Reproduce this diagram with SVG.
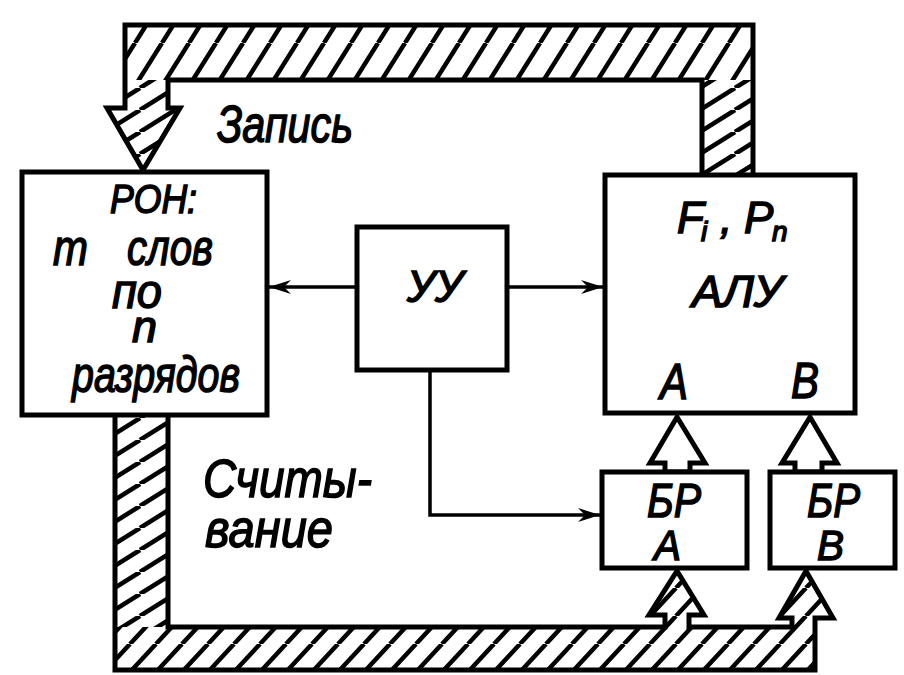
<svg xmlns="http://www.w3.org/2000/svg" width="904" height="675" viewBox="0 0 904 675">
<defs>
<style>
.box{fill:#fff;stroke:#000;stroke-width:5}
.bus{fill:none;stroke:#000;stroke-width:5;stroke-linejoin:miter}
.ln{fill:none;stroke:#000;stroke-width:3.5}
.t{font-family:"Liberation Sans","DejaVu Sans",sans-serif;font-style:italic;fill:#000;stroke:#000;stroke-width:1.5}
.h{stroke:#000;stroke-width:4.5;fill:none}
</style>
<pattern id="hH" patternUnits="userSpaceOnUse" width="27" height="43"><path class="h" d="M0,43 L27,0 M-27,43 L0,0 M27,43 L54,0"/></pattern>
<pattern id="hB" patternUnits="userSpaceOnUse" width="26" height="28"><path class="h" d="M0,28 L26,0 M-26,28 L0,0 M26,28 L52,0"/></pattern>
<pattern id="hV" patternUnits="userSpaceOnUse" width="35" height="22"><path class="h" d="M0,22 L35,0 M-35,22 L0,0 M35,22 L70,0"/></pattern>
<marker id="arr" markerUnits="userSpaceOnUse" markerWidth="24" markerHeight="14" refX="22" refY="7" orient="auto"><path d="M0,0 L22,7 L0,14 L7,7 Z" fill="#000"/></marker>
</defs>
<rect width="904" height="675" fill="#fff"/>

<g id="connectors">
  <!-- top bus (Запись) -->
  <rect x="125" y="25" width="628" height="55" fill="url(#hH)"/>
  <rect x="702" y="80" width="51" height="94" fill="url(#hV)"/>
  <polygon points="125,80 168,80 168,108 180,108 143,170 107,108 125,108" fill="url(#hV)"/>
  <path class="bus" d="M702,174 L702,80 L168,80 L168,108 L180,108 L143,170 L107,108 L125,108 L125,25 L753,25 L753,174"/>
  <!-- bottom bus (Считывание) -->
  <rect x="115" y="415" width="53" height="212" fill="url(#hV)"/>
  <rect x="115" y="627" width="700" height="43" fill="url(#hB)"/>
  <polygon points="665,627 665,615 649,615 677,571 704,615 689,615 689,627" fill="url(#hB)"/>
  <polygon points="792,627 792,618 779,618 806,571 833,618 815,618 815,627" fill="url(#hB)"/>
  <path class="bus" d="M168,415 L168,627 L665,627 L665,615 L649,615 L677,571 L704,615 L689,615 L689,627 L792,627 L792,618 L779,618 L806,571 L833,618 L815,618 L815,670 L115,670 L115,415"/>
  <!-- БР -> АЛУ -->
  <polygon class="bus" points="665,472 665,463 650,463 677,417 705,463 690,463 690,472" fill="url(#hB)"/>
  <polygon class="bus" points="795,472 795,463 782,463 810,417 837,463 822,463 822,472" fill="url(#hB)"/>
  <!-- control lines -->
  <line class="ln" x1="357" y1="287" x2="269" y2="287" marker-end="url(#arr)"/>
  <line class="ln" x1="507" y1="287" x2="603" y2="287" marker-end="url(#arr)"/>
  <polyline class="ln" points="430,370 430,515 600,515" marker-end="url(#arr)"/>
  <!-- labels -->
  <text class="t" x="217" y="142" font-size="52" textLength="136" lengthAdjust="spacingAndGlyphs">Запись</text>
  <text class="t" x="203" y="497" font-size="54" textLength="169" lengthAdjust="spacingAndGlyphs">Считы-</text>
  <text class="t" x="205" y="547" font-size="54" textLength="128" lengthAdjust="spacingAndGlyphs">вание</text>
</g>

<g id="ron">
  <rect class="box" x="22" y="172" width="245" height="243"/>
  <text class="t" x="110" y="213" font-size="40" textLength="87" lengthAdjust="spacingAndGlyphs">РОН:</text>
  <text class="t" font-size="50"><tspan x="53" y="265" textLength="35" lengthAdjust="spacingAndGlyphs">m</tspan> <tspan x="127" y="265" textLength="86" lengthAdjust="spacingAndGlyphs">слов</tspan></text>
  <text class="t" x="112" y="308" font-size="48" textLength="50" lengthAdjust="spacingAndGlyphs">по</text>
  <text class="t" x="132" y="342" font-size="44" textLength="25" lengthAdjust="spacingAndGlyphs">n</text>
  <text class="t" x="72" y="392" font-size="50" textLength="168" lengthAdjust="spacingAndGlyphs">разрядов</text>
</g>

<g id="uu">
  <rect class="box" x="357" y="227" width="150" height="143"/>
  <text class="t" x="407" y="302" font-size="44" textLength="56" lengthAdjust="spacingAndGlyphs">УУ</text>
</g>

<g id="alu">
  <rect class="box" x="605" y="175" width="250" height="238"/>
  <text class="t" font-size="44"><tspan x="677" y="233">F</tspan><tspan x="701" y="241" font-size="28">i</tspan><tspan x="720" y="233">,</tspan><tspan x="744" y="233">P</tspan><tspan x="772" y="241" font-size="28">n</tspan></text>
  <text class="t" x="692" y="307" font-size="44" textLength="91" lengthAdjust="spacingAndGlyphs">АЛУ</text>
  <text class="t" x="660" y="399" font-size="50" textLength="28" lengthAdjust="spacingAndGlyphs">A</text>
  <text class="t" x="791" y="398" font-size="50" textLength="28" lengthAdjust="spacingAndGlyphs">B</text>
</g>

<g id="bra">
  <rect class="box" x="602" y="472" width="145" height="96"/>
  <text class="t" x="647" y="517" font-size="48" textLength="54" lengthAdjust="spacingAndGlyphs">БР</text>
  <text class="t" x="654" y="560" font-size="42" textLength="27" lengthAdjust="spacingAndGlyphs">A</text>
</g>

<g id="brb">
  <rect class="box" x="770" y="472" width="125" height="96"/>
  <text class="t" x="807" y="517" font-size="48" textLength="53" lengthAdjust="spacingAndGlyphs">БР</text>
  <text class="t" x="817" y="560" font-size="42" textLength="27" lengthAdjust="spacingAndGlyphs">B</text>
</g>
</svg>
